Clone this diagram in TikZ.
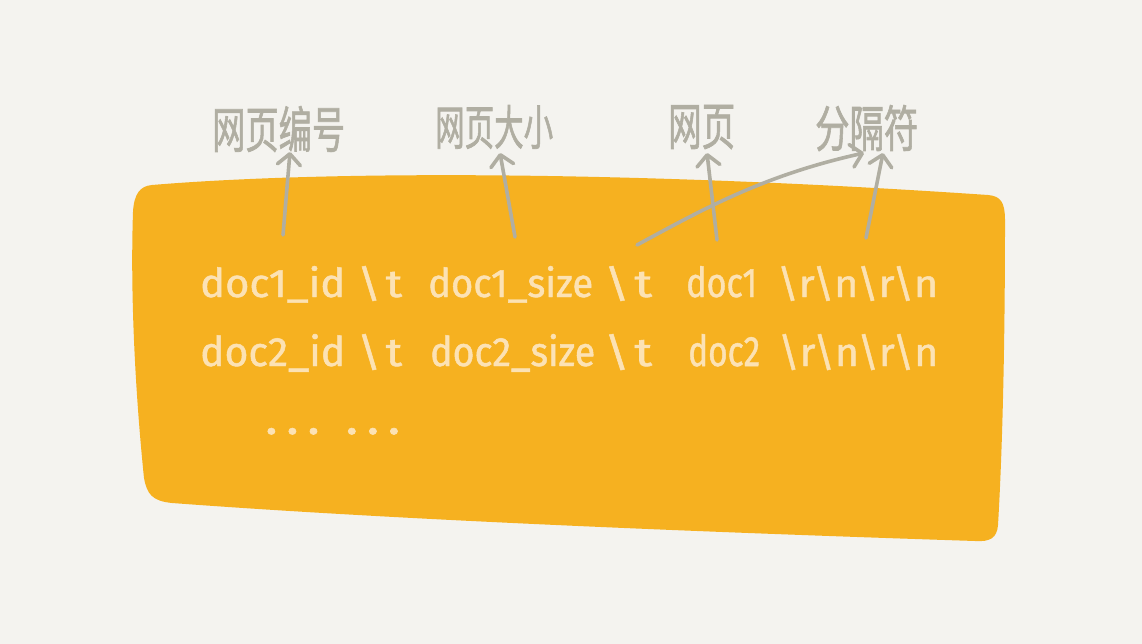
\documentclass[tikz,border=0pt]{standalone}
\usepackage{fontspec}
\setmainfont{Fira Sans}[FakeBold=1.2]
\newfontfamily\cjk{Noto Sans CJK SC}[FakeBold=1.6]
\usetikzlibrary{arrows.meta}
\definecolor{bg}{HTML}{F4F3EF}
\definecolor{blob}{HTML}{F6B120}
\definecolor{cream}{HTML}{FCE2B4}
\definecolor{pen}{HTML}{B0AEA2}
\newcommand{\bsl}{\textbackslash\hspace{0.1em}}
\newcommand{\rnrn}{\textbackslash r\textbackslash n\textbackslash r\textbackslash n}
\tikzset{
  seg/.style={anchor=base west, inner sep=0pt, text=cream, font=\fontsize{36}{40}\selectfont},
  lbl/.style={anchor=base west, inner sep=0pt, text=pen, font=\cjk\fontsize{36}{40}\selectfont},
  arr/.style={draw=pen, line width=3.6pt, line cap=round,
    -{Straight Barb[length=11pt, width=23pt, round]}}
}
\begin{document}
\begin{tikzpicture}[x=1pt,y=-1pt]
\fill[bg] (0,0) rectangle (1142,644);
\useasboundingbox (0,0) rectangle (1142,644);
% blob
\fill[blob] (152,185) .. controls (320,171) and (620,170) .. (988,195)
  .. controls (1001,196) and (1005,203) .. (1005,220)
  .. controls (1005,330) and (1003,440) .. (998,525)
  .. controls (997,538) and (990,542) .. (975,541)
  .. controls (700,532) and (400,520) .. (172,503)
  .. controls (152,501) and (147,494) .. (144,478)
  .. controls (136,400) and (130,300) .. (133,212)
  .. controls (134,194) and (140,186) .. (152,185) -- cycle;
% line 1
\node[seg] (a1) at (200,297) {\resizebox{145pt}{31pt}{doc1\_id}};
\node[seg] (a2) at (357,297) {\resizebox{45pt}{31pt}{\bsl t}};
\node[seg] (a3) at (428,297) {\resizebox{165pt}{31pt}{doc1\_size}};
\node[seg] (a4) at (604,297) {\resizebox{48pt}{31pt}{\bsl t}};
\node[seg] (a5) at (686,297) {\resizebox{71pt}{31pt}{doc1}};
\node[seg] (a6) at (777,297) {\resizebox{161pt}{31pt}{\rnrn}};
% line 2
\node[seg] (b1) at (200,366) {\resizebox{145pt}{32pt}{doc2\_id}};
\node[seg] (b2) at (357,366) {\resizebox{45pt}{32pt}{\bsl t}};
\node[seg] (b3) at (430,366) {\resizebox{165pt}{32pt}{doc2\_size}};
\node[seg] (b4) at (604,366) {\resizebox{48pt}{32pt}{\bsl t}};
\node[seg] (b5) at (688,366) {\resizebox{72pt}{32pt}{doc2}};
\node[seg] (b6) at (778,366) {\resizebox{160pt}{32pt}{\rnrn}};
% dots
\node[seg] (dots) at (265,434) {\resizebox{135pt}{6pt}{.\,.\,.\hspace{0.5em}.\,.\,.}};
% labels
\node[lbl] (l1) at (212,148) {\resizebox{133pt}{42pt}{网页编号}};
\node[lbl] (l2) at (435,145) {\resizebox{118pt}{40pt}{网页大小}};
\node[lbl] (l3) at (668,145) {\resizebox{67pt}{40pt}{网页}};
\node[lbl] (l4) at (815,147) {\resizebox{103pt}{42pt}{分隔符}};
% arrow endpoints
\coordinate (s1) at (283,235); \coordinate (t1) at (290,152);
\coordinate (s2) at (515,237); \coordinate (t2) at (500,153);
\coordinate (s3) at (717,240); \coordinate (t3) at (707,153);
\coordinate (s4) at (866,238); \coordinate (t4) at (883,153);
\coordinate (s5) at (637,245); \coordinate (t5) at (864,153);
\draw[arr] (s1) -- (t1);
\draw[arr] (s2) -- (t2);
\draw[arr] (s3) -- (t3);
\draw[arr] (s4) -- (t4);
\draw[arr] (s5) .. controls (705,208) and (765,175) .. (t5);
\end{tikzpicture}
\end{document}
